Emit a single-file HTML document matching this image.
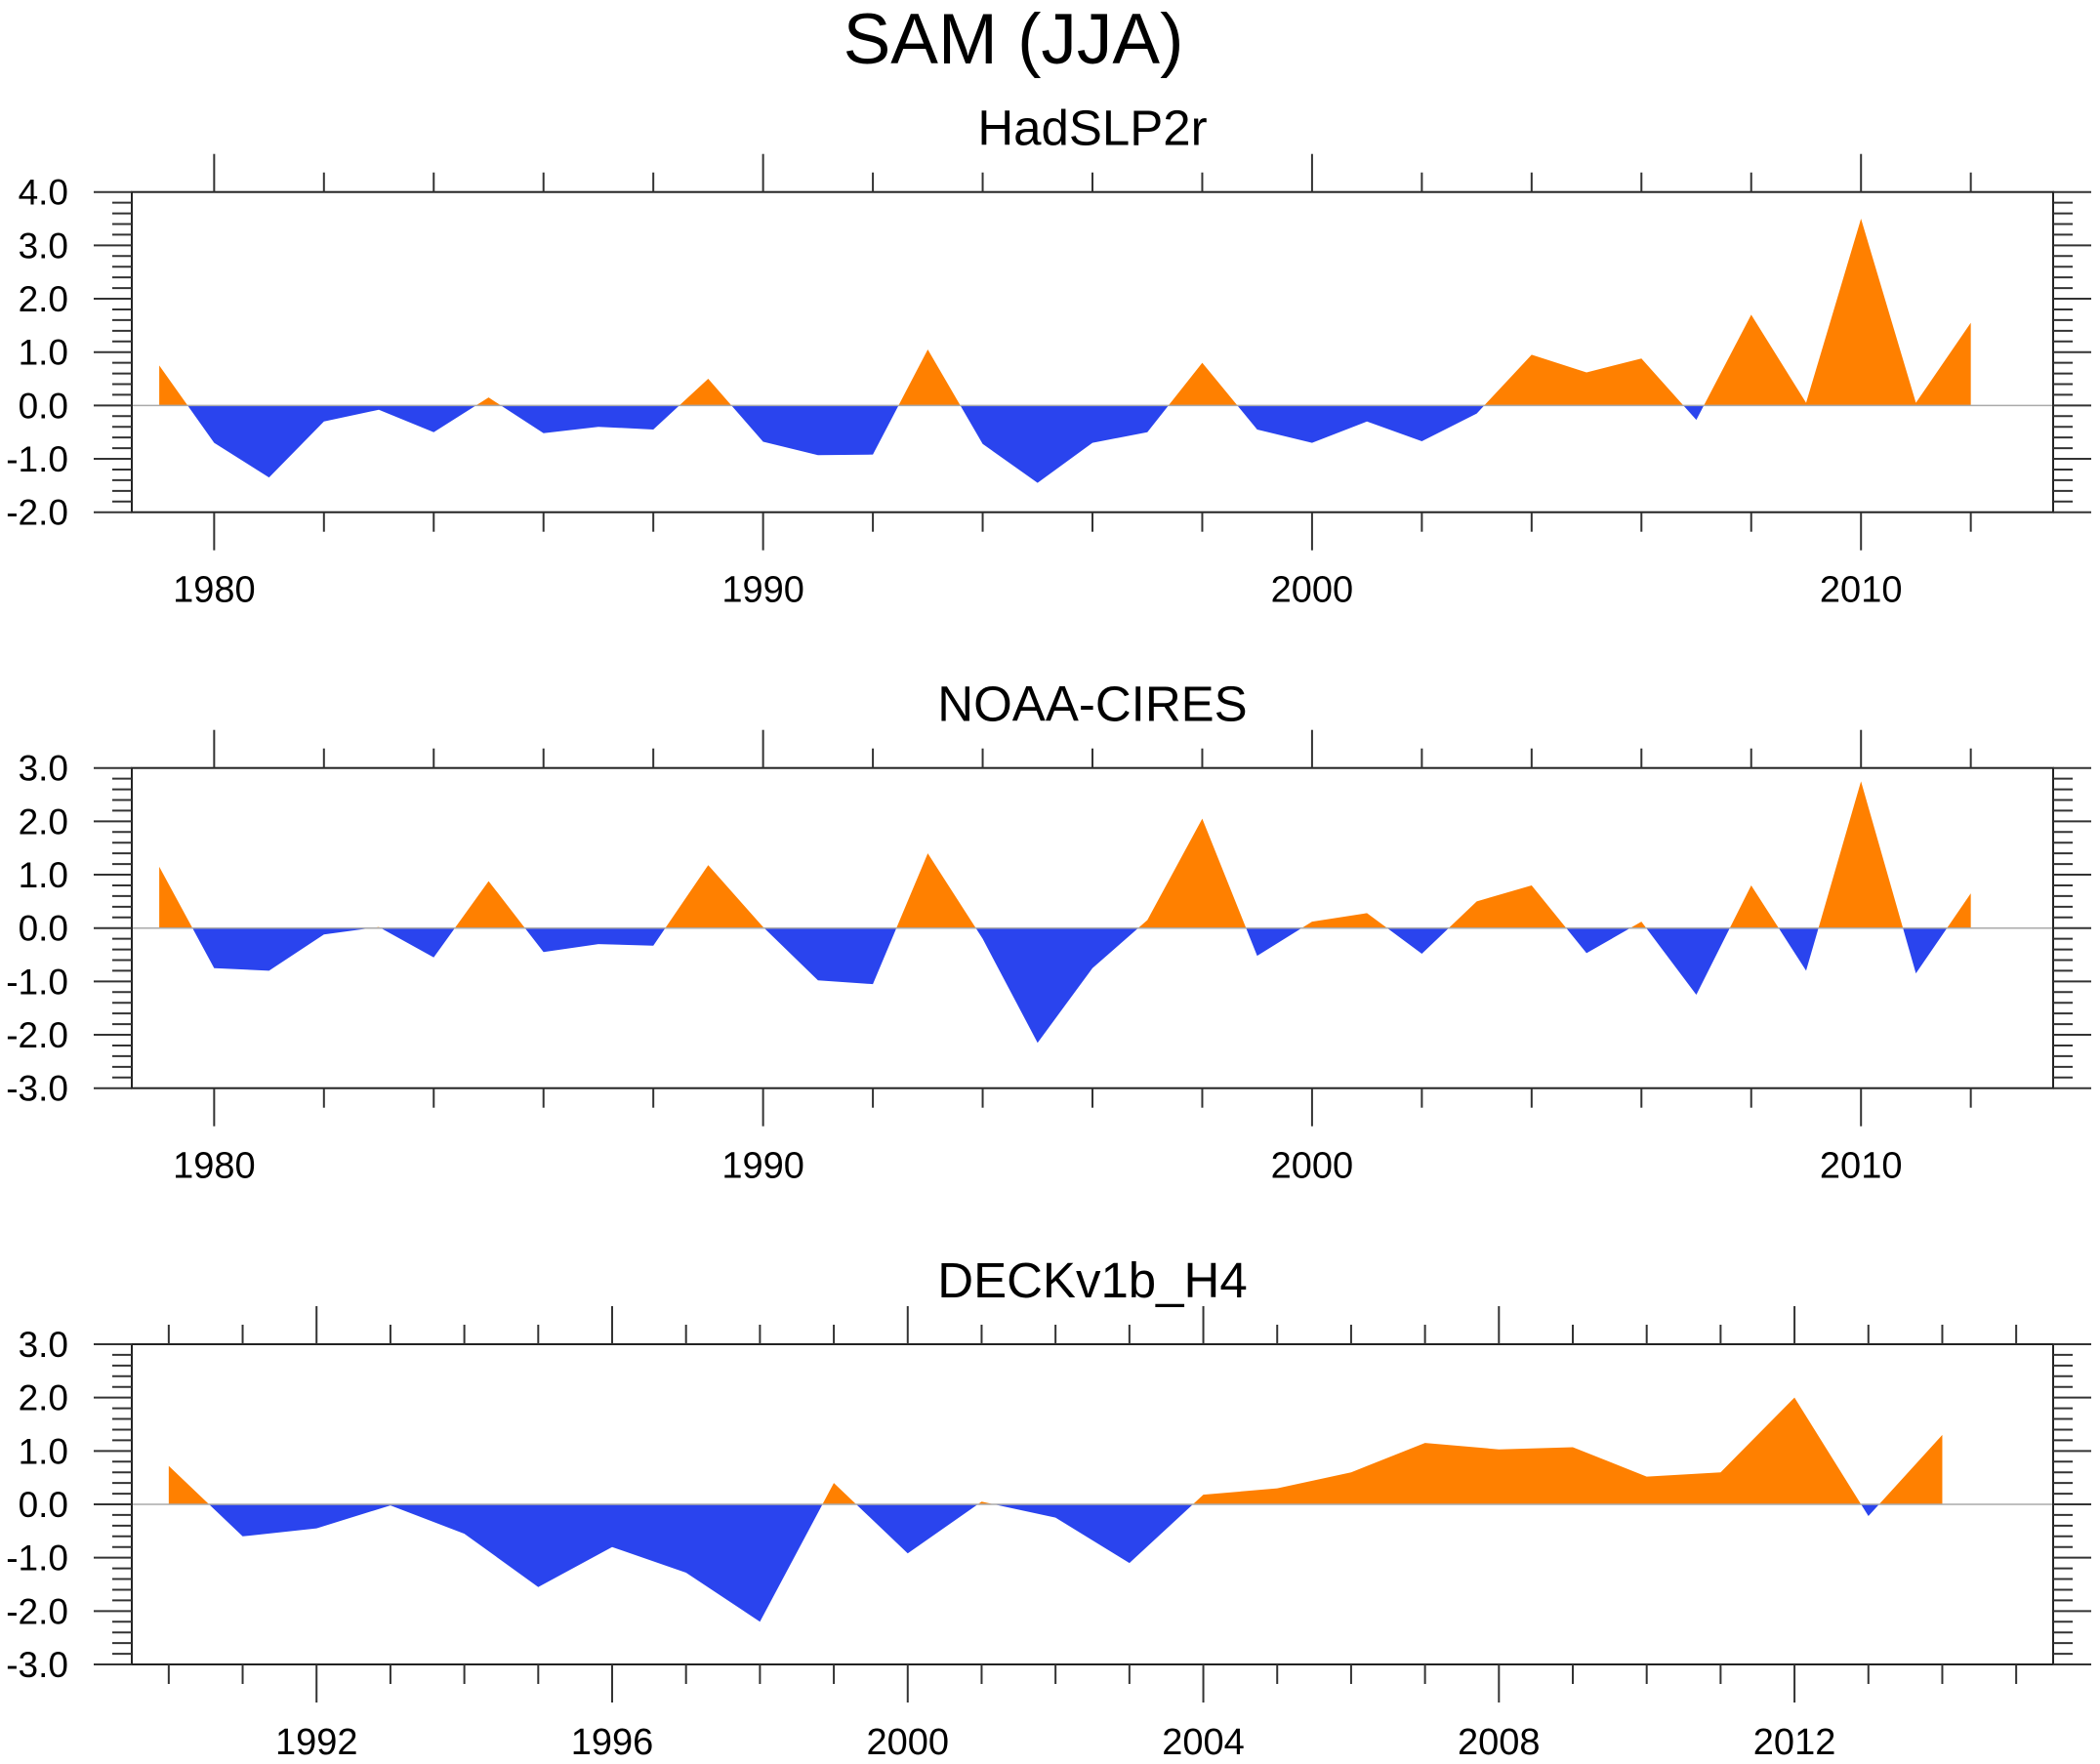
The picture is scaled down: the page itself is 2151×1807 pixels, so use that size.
<!DOCTYPE html>
<html><head><meta charset="utf-8"><title>SAM (JJA)</title>
<style>
html,body{margin:0;padding:0;background:#fff;}
svg{display:block;font-family:"Liberation Sans",sans-serif;}
</style></head>
<body>
<svg id="chart" width="2151" height="1807" viewBox="0 0 2151 1807" xmlns="http://www.w3.org/2000/svg">
<text x="1038" y="65" font-size="73" text-anchor="middle">SAM (JJA)</text>
</svg>
<script>
const hadYears = [1979,1980,1981,1982,1983,1984,1985,1986,1987,1988,1989,1990,1991,1992,1993,1994,1995,1996,1997,1998,1999,2000,2001,2002,2003,2004,2005,2006,2007,2008,2009,2010,2011,2012];
const hadValues = [0.75,-0.7,-1.35,-0.3,-0.08,-0.5,0.15,-0.52,-0.4,-0.45,0.5,-0.68,-0.93,-0.92,1.05,-0.72,-1.45,-0.7,-0.5,0.8,-0.45,-0.7,-0.3,-0.67,-0.15,0.95,0.62,0.88,-0.27,1.7,0.05,3.5,0.05,1.55];
const noaaYears = hadYears;
const noaaValues = [1.15,-0.75,-0.8,-0.12,0.02,-0.55,0.88,-0.45,-0.3,-0.33,1.18,0.02,-0.98,-1.05,1.4,-0.2,-2.15,-0.75,0.15,2.05,-0.52,0.12,0.28,-0.48,0.5,0.8,-0.47,0.12,-1.25,0.8,-0.8,2.75,-0.85,0.65];
const deckYears = [1990,1991,1992,1993,1994,1995,1996,1997,1998,1999,2000,2001,2002,2003,2004,2005,2006,2007,2008,2009,2010,2011,2012,2013,2014];
const deckValues = [0.72,-0.6,-0.45,-0.02,-0.55,-1.55,-0.8,-1.28,-2.2,0.4,-0.92,0.05,-0.25,-1.1,0.18,0.3,0.6,1.15,1.03,1.07,0.52,0.6,2.0,-0.22,1.3];
const yTicks1 = ["-2.0","-1.0","0.0","1.0","2.0","3.0","4.0"];
const yTicks23 = ["-3.0","-2.0","-1.0","0.0","1.0","2.0","3.0"];

const NS="http://www.w3.org/2000/svg";
const svg=document.getElementById('chart');
function mk(tag,attrs,parent){const e=document.createElementNS(NS,tag);for(const k in attrs)e.setAttribute(k,attrs[k]);(parent||svg).appendChild(e);return e;}

const panels=[
 {name:'hadslp2r',title:'HadSLP2r',top:196.7,years:hadYears,vals:hadValues,ymin:-2,ymax:4,yt:yTicks1,xmin:1978.5,xmax:2013.5,minorStep:2,majorStep:10,majorStart:1980},
 {name:'noaa-cires',title:'NOAA-CIRES',top:786.7,years:noaaYears,vals:noaaValues,ymin:-3,ymax:3,yt:yTicks23,xmin:1978.5,xmax:2013.5,minorStep:2,majorStep:10,majorStart:1980},
 {name:'deckv1b-h4',title:'DECKv1b_H4',top:1377,years:deckYears,vals:deckValues,ymin:-3,ymax:3,yt:yTicks23,xmin:1989.5,xmax:2015.5,minorStep:1,majorStep:4,majorStart:1992}
];
const L=135,R=2103,H=328;
panels.forEach((p,pi)=>{
 const g=mk('g',{});
 
 
 const T=p.top,B=T+H;
 const xs=v=>L+(v-p.xmin)/(p.xmax-p.xmin)*(R-L);
 const ys=v=>B-(v-p.ymin)/(p.ymax-p.ymin)*H;
 const t=mk('text',{x:1119,y:T-48,'font-size':51,'text-anchor':'middle'},g);
 t.textContent=p.title;
 
 
 const cid='c'+pi;
 const defs=mk('defs',{},g);
 const cpU=mk('clipPath',{id:cid+'u'},defs);
 mk('rect',{x:L,y:T,width:R-L,height:ys(0)-T},cpU);
 const cpD=mk('clipPath',{id:cid+'d'},defs);
 mk('rect',{x:L,y:ys(0),width:R-L,height:B-ys(0)},cpD);
 let d='M'+xs(p.years[0])+','+ys(0);
 p.years.forEach((yr,i)=>{d+=' L'+xs(yr)+','+ys(p.vals[i]);});
 d+=' L'+xs(p.years[p.years.length-1])+','+ys(0)+' Z';
 const pos=mk('path',{d:d,fill:'#ff8000','clip-path':'url(#'+cid+'u)'},g);
 
 
 const neg=mk('path',{d:d,fill:'#2a44ee','clip-path':'url(#'+cid+'d)'},g);
 
 
 const zl=mk('line',{x1:L,x2:R,y1:ys(0),y2:ys(0),stroke:'#aaa','stroke-width':1.5},g);
 
 
 const fr=mk('rect',{x:L,y:T,width:R-L,height:H,fill:'none',stroke:'#222','stroke-width':2},g);
 
 
 for(let v=p.ymin;v<=p.ymax+1e-6;v+=0.2){
  const y=ys(v);const major=Math.abs(v-Math.round(v))<1e-6;
  const len=major?39:20;
  mk('line',{x1:L-len,x2:L,y1:y,y2:y,stroke:'#333','stroke-width':2},g);
  mk('line',{x1:R,x2:R+len,y1:y,y2:y,stroke:'#333','stroke-width':2},g);
 }
 p.yt.forEach((lab,i)=>{
  const tx=mk('text',{x:70,y:ys(p.ymin+i)+13,'font-size':37,'text-anchor':'end'},g);
  tx.textContent=lab;
  
  
 });
 for(let yr=Math.ceil(p.xmin);yr<=p.xmax;yr++){
  if((yr-p.majorStart)%p.minorStep!==0)continue;
  const major=((yr-p.majorStart)%p.majorStep+p.majorStep)%p.majorStep===0;
  const len=major?39:20;const x=xs(yr);
  mk('line',{x1:x,x2:x,y1:T-len,y2:T,stroke:'#333','stroke-width':2},g);
  mk('line',{x1:x,x2:x,y1:B,y2:B+len,stroke:'#333','stroke-width':2},g);
  if(major){
   const tx=mk('text',{x:x,y:B+92,'font-size':38,'text-anchor':'middle'},g);
   tx.textContent=String(yr);
   
   
  }
 }
});
</script>
</body></html>
